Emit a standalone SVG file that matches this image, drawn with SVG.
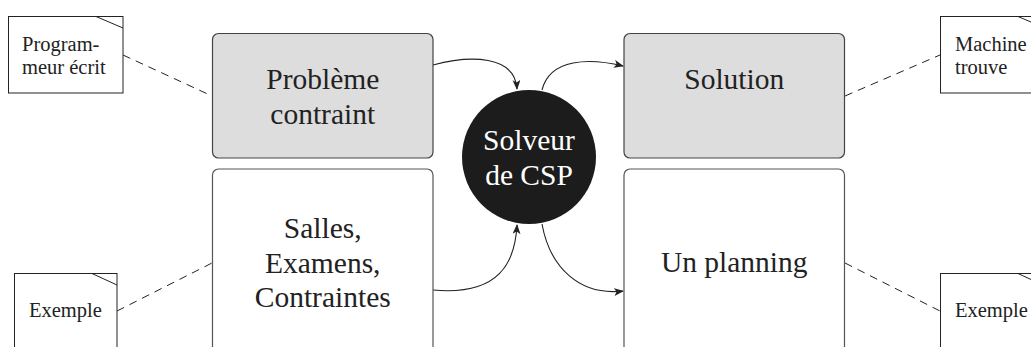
<svg xmlns="http://www.w3.org/2000/svg" width="1031" height="347" viewBox="0 0 1031 347">
<style>
  .box { stroke: #444; stroke-width: 1.2; }
  .gray { fill: #dddddd; }
  .white { fill: #ffffff; stroke: #555; }
  .note { fill: #ffffff; stroke: #222; stroke-width: 1; }
  .fold { fill: none; stroke: #222; stroke-width: 1; }
  .big { font-family: "Liberation Serif", "Times New Roman", serif; font-size: 29.5px; fill: #222; text-anchor: middle; }
  .inv { fill: #ffffff; }
  .small { font-family: "Liberation Serif", "Times New Roman", serif; font-size: 20.5px; fill: #222; }
  .dash { fill: none; stroke: #222; stroke-width: 1; stroke-dasharray: 8 6; }
  .arrow { fill: none; stroke: #222; stroke-width: 1.1; marker-end: url(#head); }
</style>
<defs>
  <marker id="head" viewBox="0 0 10 8" refX="9" refY="4" markerWidth="10" markerHeight="8" markerUnits="userSpaceOnUse" orient="auto">
    <path d="M0,0 L10,4 L0,8 L2.5,4 Z" fill="#222"/>
  </marker>
</defs>

<g id="connectors">
  <path class="dash" d="M123,55 L212,96"/>
  <path class="dash" d="M845,96 L940,55"/>
  <path class="dash" d="M117,311 L212,263"/>
  <path class="dash" d="M845,263 L940,311"/>
  <path class="arrow" d="M433,65 C470,55 515,55 517,89"/>
  <path class="arrow" d="M542,90 C550,58 590,58 623,66"/>
  <path class="arrow" d="M433,290 C500,296 515,262 517,225"/>
  <path class="arrow" d="M542,224 C550,268 580,296 623,291"/>
</g>

<g id="probleme">
  <rect class="box gray" x="212.5" y="33.5" width="220.5" height="124.5" rx="6"/>
  <text class="big" x="322.75" y="89">Problème</text>
  <text class="big" x="322.75" y="123.5">contraint</text>
</g>

<g id="exemple-donnees">
  <rect class="box white" x="212.5" y="169" width="220.5" height="200" rx="6"/>
  <text class="big" x="322.75" y="238">Salles,</text>
  <text class="big" x="322.75" y="272.5">Examens,</text>
  <text class="big" x="322.75" y="307">Contraintes</text>
</g>

<g id="solution">
  <rect class="box gray" x="624" y="33.5" width="220.5" height="124.5" rx="6"/>
  <text class="big" x="734.25" y="89">Solution</text>
</g>

<g id="planning">
  <rect class="box white" x="624" y="169" width="220.5" height="200" rx="6"/>
  <text class="big" x="734.25" y="272">Un planning</text>
</g>

<g id="solveur">
  <circle cx="529" cy="157" r="67" fill="#1c1c1c"/>
  <text class="big inv" x="529" y="150">Solveur</text>
  <text class="big inv" x="529" y="185">de CSP</text>
</g>

<g id="note-programmeur">
  <rect class="note" x="8.5" y="16.5" width="114.5" height="76.5"/>
  <path class="fold" d="M96,16.5 L123,28"/>
  <text class="small" x="22" y="51">Program-</text>
  <text class="small" x="22" y="74">meur écrit</text>
</g>

<g id="note-machine">
  <rect class="note" x="940.5" y="16.5" width="114.5" height="76.5"/>
  <path class="fold" d="M1018,16.5 L1045,28"/>
  <text class="small" x="955" y="51">Machine</text>
  <text class="small" x="955" y="74">trouve</text>
</g>

<g id="note-exemple-gauche">
  <rect class="note" x="14.5" y="273.5" width="102.5" height="90"/>
  <path class="fold" d="M92,273.5 L117,285"/>
  <text class="small" x="29" y="317">Exemple</text>
</g>

<g id="note-exemple-droite">
  <rect class="note" x="940.5" y="273.5" width="102.5" height="90"/>
  <path class="fold" d="M1018,273.5 L1043,285"/>
  <text class="small" x="955" y="317">Exemple</text>
</g>
</svg>
